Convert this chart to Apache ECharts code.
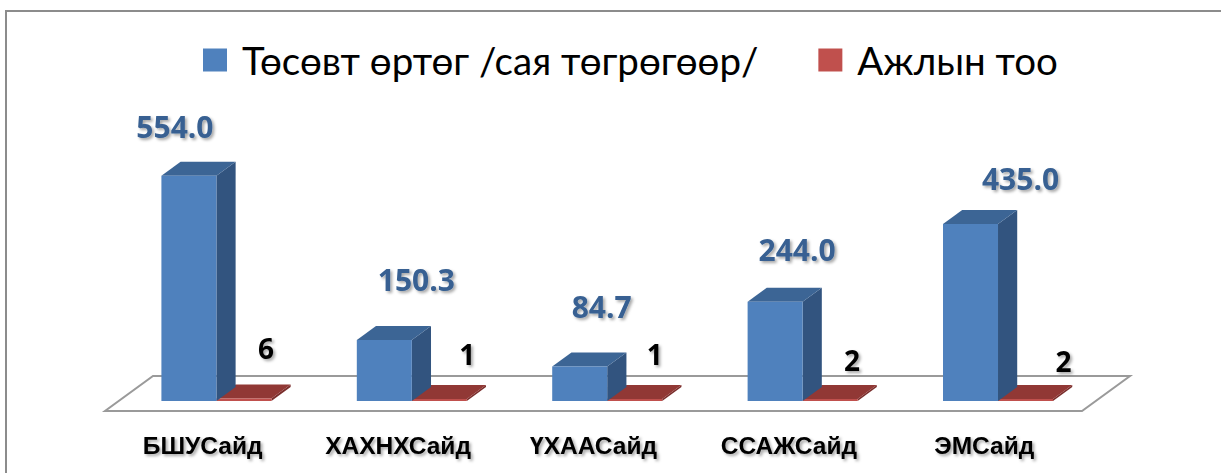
<!DOCTYPE html>
<html>
<head>
<meta charset="utf-8">
<script src="https://cdn.jsdelivr.net/npm/echarts@6/dist/echarts.min.js"></script>
<style>
  html, body { margin: 0; padding: 0; background: #ffffff; }
  #chart { width: 1221px; height: 473px; }
</style>
</head>
<body>
<div id="chart"></div>
<script>
// ---- data ----
const categories = ['БШУСайд', 'ХАХНХСайд', 'ҮХААСайд', 'ССАЖСайд', 'ЭМСайд'];
const seriesNames = ['Төсөвт өртөг /сая төгрөгөөр/', 'Ажлын тоо'];
const budgetValues = [554.0, 150.3, 84.7, 244.0, 435.0];
const jobCounts = [6, 1, 1, 2, 2];

// ---- label placement (style, relative to each bar's front-top centre) ----
const budgetLabelShift = [[-14, -49], [32, -60], [22, -60], [22, -52], [50, -46]];
const jobLabelShift = [[22, -51], [28, -45], [20, -45], [22, -39], [38, -38]];

// ---- 3D look parameters ----
const SLOPE = 48 / 35;       // horizontal shift per px of depth
const FRONT_GAP = 10;        // floor front edge below bar base
const FLOOR_BACK = 25;       // floor back edge above bar base
const BAR_DEPTH = 14;        // bar depth (vertical px)
const BAR_FRAC = 0.2815;     // bar width as fraction of band

const shadow = { textShadowColor: 'rgba(0,0,0,0.35)', textShadowBlur: 3, textShadowOffsetX: 2, textShadowOffsetY: 2 };

function makeBarRenderer(isRight, colors, labelShift, labelStyle, fmt) {
  return function (params, api) {
    const i = api.value(0), v = api.value(1);
    const top = api.coord([i, v]);
    const base = api.coord([i, 0]);
    const band = api.size([1, 0])[0];
    const w = band * BAR_FRAC;
    const shiftX = FRONT_GAP * SLOPE;
    const x0 = base[0] + shiftX - (isRight ? 0 : w);
    const yb = base[1], yt = Math.min(top[1], base[1] - 2);
    const dy = BAR_DEPTH, dx = BAR_DEPTH * SLOPE;
    const sh = labelShift[params.dataIndex];
    return {
      type: 'group',
      children: [
        { type: 'polygon', shape: { points: [[x0 + w, yt], [x0 + w + dx, yt - dy], [x0 + w + dx, yb - dy], [x0 + w, yb]] }, style: { fill: colors.side } },
        { type: 'polygon', shape: { points: [[x0, yt], [x0 + w, yt], [x0 + w + dx, yt - dy], [x0 + dx, yt - dy]] }, style: { fill: colors.top } },
        { type: 'rect', shape: { x: x0, y: yt, width: w, height: yb - yt }, style: { fill: colors.front } },
        { type: 'text', x: x0 + w / 2 + sh[0], y: yt + sh[1], z2: 100,
          style: Object.assign({ text: fmt(v), align: 'center', verticalAlign: 'middle' }, labelStyle, shadow) }
      ]
    };
  };
}

const chart = echarts.init(document.getElementById('chart'), null, { renderer: 'svg' });

chart.setOption({
  backgroundColor: '#ffffff',
  animation: false,
  graphic: [{
    type: 'rect', z: 0, silent: true,
    shape: { x: 6, y: 11, width: 1400, height: 700 },
    style: { fill: 'none', stroke: '#8c8c8c', lineWidth: 2 }
  }],
  legend: {
    left: 198, top: 35,
    itemWidth: 24, itemHeight: 23, itemGap: 60,
    icon: 'rect',
    data: seriesNames,
    textStyle: { fontFamily: 'Lato, "Open Sans", sans-serif', fontSize: 38.5, color: '#000', lineHeight: 40, padding: [0, 0, 0, 10] }
  },
  grid: { left: 105, right: 139, top: 157, bottom: 72 },
  xAxis: {
    type: 'category', data: categories,
    axisLine: { show: false }, axisTick: { show: false }, splitLine: { show: false },
    axisLabel: Object.assign({ margin: 32, fontFamily: '"Liberation Sans", Arial, sans-serif', fontSize: 24.5, fontWeight: 'bold', color: '#000' }, shadow)
  },
  yAxis: { type: 'value', min: 0, max: 600, show: false },
  series: [
    {
      name: seriesNames[0], type: 'custom', z: 4, clip: false,
      itemStyle: { color: '#4F81BD' },
      encode: { x: 0, y: 1 },
      data: budgetValues.map((v, i) => [i, v]),
      renderItem: makeBarRenderer(false, { front: '#4F81BD', top: '#3C6595', side: '#32547F' }, budgetLabelShift,
        { fontFamily: '"Open Sans", Lato, sans-serif', fontSize: 30, fontWeight: 'bold', fill: '#376092' }, v => v.toFixed(1))
    },
    {
      name: seriesNames[1], type: 'custom', z: 3, clip: false,
      itemStyle: { color: '#C0504D' },
      encode: { x: 0, y: 1 },
      data: jobCounts.map((v, i) => [i, v]),
      renderItem: makeBarRenderer(true, { front: '#C0504D', top: '#913835', side: '#7A2E2C' }, jobLabelShift,
        { fontFamily: '"Open Sans", Lato, sans-serif', fontSize: 28, fontWeight: 'bold', fill: '#000' }, v => String(v))
    },
    {
      name: 'floor', type: 'custom', z: 1, clip: false, silent: true,
      data: [[0, 0]],
      encode: { x: 0, y: 1 },
      renderItem: function (params, api) {
        const cs = params.coordSys;
        const y0 = api.coord([0, 0])[1];
        const yf = y0 + FRONT_GAP, yk = y0 - FLOOR_BACK;
        const d = (FRONT_GAP + FLOOR_BACK) * SLOPE;
        return {
          type: 'polygon',
          shape: { points: [[cs.x, yf], [cs.x + cs.width, yf], [cs.x + cs.width + d, yk], [cs.x + d, yk]] },
          style: { fill: '#ffffff', stroke: '#9a9a9a', lineWidth: 2 }
        };
      }
    }
  ]
});
</script>
</body>
</html>
